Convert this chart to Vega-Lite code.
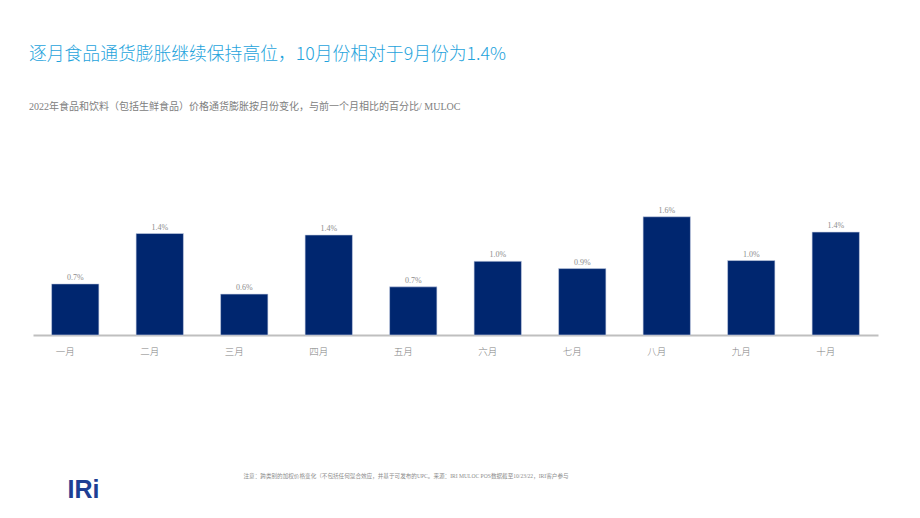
{
  "$schema": "https://vega.github.io/schema/vega-lite/v6.json",
  "autosize": {"type": "none"},
  "width": 845,
  "height": 219,
  "padding": {"left": 33, "top": 116, "right": 42, "bottom": 183},
  "background": "#ffffff",
  "title": {
    "text": "逐月食品通货膨胀继续保持高位，10月份相对于9月份为1.4%",
    "subtitle": "2022年食品和饮料（包括生鲜食品）价格通货膨胀按月份变化，与前一个月相比的百分比/ MULOC",
    "anchor": "start",
    "frame": "group",
    "dx": -4,
    "offset": 4,
    "font": "Noto Sans CJK SC",
    "fontSize": 17.8,
    "fontWeight": 300,
    "color": "#1ea3dc",
    "subtitleFont": "Liberation Serif, Noto Sans CJK SC",
    "subtitleFontSize": 10,
    "subtitleColor": "#808080",
    "subtitlePadding": 38
  },
  "data": {
    "values": [
      {"month": "一月", "value": 0.0070},
      {"month": "二月", "value": 0.0139},
      {"month": "三月", "value": 0.0056},
      {"month": "四月", "value": 0.0137},
      {"month": "五月", "value": 0.0066},
      {"month": "六月", "value": 0.0101},
      {"month": "七月", "value": 0.0091},
      {"month": "八月", "value": 0.0162},
      {"month": "九月", "value": 0.0102},
      {"month": "十月", "value": 0.0141}
    ]
  },
  "encoding": {
    "x": {
      "field": "month",
      "type": "nominal",
      "sort": null,
      "scale": {"paddingInner": 0.44, "paddingOuter": 0.22},
      "axis": {
        "title": "注意：跨类别的加权价格变化（不包括任何混合效应，并基于可发布的UPC。来源：IRI MULOC POS数据截至10/23/22，IRI客户参与",
        "titleX": 210,
        "titleY": 142,
        "titleAlign": "left",
        "titleBaseline": "alphabetic",
        "titleFont": "Liberation Serif, Noto Sans CJK SC",
        "titleFontSize": 5.6,
        "titleFontWeight": "normal",
        "titleColor": "#8c8c8c",
        "labelAngle": 0,
        "labelOffset": -10,
        "labelPadding": 11,
        "labelFont": "Noto Sans CJK SC",
        "labelFontSize": 9.5,
        "labelFontWeight": 300,
        "labelColor": "#7f7f7f",
        "ticks": false,
        "domainColor": "#bfbfbf",
        "domainWidth": 2
      }
    },
    "y": {
      "field": "value",
      "type": "quantitative",
      "scale": {"domain": [0, 0.03]},
      "axis": {
        "title": "IRi",
        "titleX": 34,
        "titleY": 381,
        "titleAngle": 0,
        "titleAlign": "left",
        "titleBaseline": "alphabetic",
        "titleFont": "Liberation Sans",
        "titleFontSize": 25,
        "titleFontWeight": "bold",
        "titleColor": "#1d3f93",
        "labels": false,
        "ticks": false,
        "domain": false,
        "grid": false
      }
    }
  },
  "layer": [
    {
      "mark": {"type": "bar", "color": "#00266f", "stroke": "#c9d2e6", "strokeWidth": 0.6}
    },
    {
      "mark": {
        "type": "text",
        "baseline": "bottom",
        "dy": -2,
        "font": "Liberation Serif",
        "fontSize": 8,
        "color": "#8c8c8c"
      },
      "encoding": {
        "text": {"field": "value", "type": "quantitative", "format": ".1%"}
      }
    }
  ],
  "config": {
    "view": {"stroke": null}
  }
}
